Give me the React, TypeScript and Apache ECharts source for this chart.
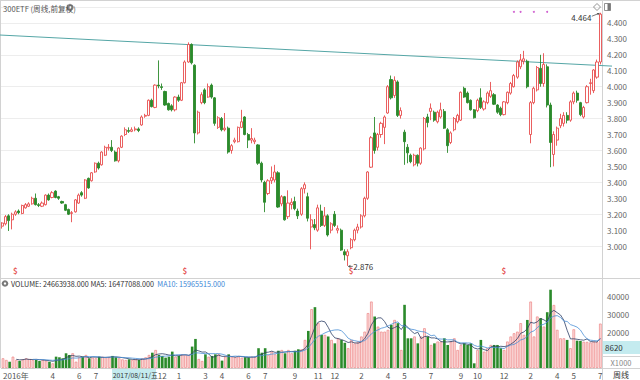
import React, { useEffect, useRef } from 'react';
import * as echarts from 'echarts';

const FONT = '"Noto Sans CJK SC", "Noto Sans", sans-serif';

// ---------- categories (weekly bars, dated by last trading day) ----------
const START_DATE = [2016, 11, 23];
const END_DATE = [2020, 6, 3];
const CLOSED_WEEKS = ['2017-10-06', '2018-10-05', '2019-02-08', '2020-01-31'];
const LAST_DAY_FIX: Record<string, string> = {
  '2019-05-03': '2019-04-30',
  '2019-10-04': '2019-09-30',
  '2020-05-01': '2020-04-30',
};
function buildWeeks(): string[] {
  const out: string[] = [];
  let t = Date.UTC(START_DATE[0], START_DATE[1], START_DATE[2]);
  const end = Date.UTC(END_DATE[0], END_DATE[1], END_DATE[2]);
  while (t <= end) {
    const s = new Date(t).toISOString().slice(0, 10);
    if (!CLOSED_WEEKS.includes(s)) out.push(LAST_DAY_FIX[s] ?? s);
    t += 7 * 86400000;
  }
  return out;
}
const WEEKS = buildWeeks();

// ---------- price data ----------
const OPEN = [
  3.125,3.140,3.190,3.165,3.200,3.220,3.205,3.240,3.250,3.265,
  3.300,3.260,3.250,3.260,3.320,3.305,3.345,3.310,3.280,3.260,
  3.230,3.205,3.215,3.270,3.335,3.300,3.425,3.410,3.465,3.520,
  3.510,3.570,3.615,3.620,3.590,3.535,3.620,3.700,3.725,3.720,
  3.730,3.735,3.760,3.815,3.820,3.915,3.870,4.010,4.000,3.970,
  3.895,3.880,3.855,3.935,3.915,4.025,4.155,4.265,4.135,3.710,
  3.900,3.980,3.935,4.010,3.930,3.745,3.800,3.730,3.740,3.600,
  3.655,3.655,3.745,3.810,3.700,3.665,3.655,3.635,3.520,3.400,
  3.330,3.410,3.415,3.460,3.265,3.310,3.185,3.260,3.280,3.220,
  3.200,3.360,3.310,3.120,3.135,3.100,3.220,3.130,3.190,3.100,
  3.200,3.100,3.100,2.965,2.940,2.990,3.040,3.100,3.120,3.190,
  3.300,3.495,3.710,3.620,3.700,3.745,3.835,4.045,3.945,4.030,
  3.820,3.715,3.620,3.570,3.510,3.570,3.520,3.610,3.810,3.845,
  3.840,3.780,3.810,3.845,3.730,3.650,3.730,3.780,3.790,3.990,
  3.960,3.915,3.855,3.850,3.930,3.860,3.900,3.940,3.950,3.885,
  3.865,3.825,3.900,3.960,4.000,4.060,4.125,4.160,4.160,3.700,
  3.900,3.980,4.115,4.020,4.125,3.885,3.575,3.665,3.755,3.770,
  3.820,3.790,3.905,3.960,3.900,3.810,3.900,4.020,3.975,4.060,
  4.155,
];
const CLOSE = [
  3.145,3.185,3.160,3.200,3.215,3.210,3.255,3.260,3.265,3.300,
  3.260,3.255,3.270,3.320,3.290,3.335,3.305,3.300,3.270,3.225,
  3.200,3.210,3.290,3.320,3.320,3.415,3.365,3.460,3.520,3.490,
  3.590,3.620,3.620,3.600,3.535,3.615,3.690,3.730,3.720,3.730,
  3.735,3.725,3.810,3.820,3.915,3.875,4.010,4.005,3.995,3.885,
  3.855,3.855,3.935,3.915,4.025,4.155,4.265,4.150,3.710,3.840,
  3.950,3.900,4.000,3.935,3.770,3.805,3.730,3.740,3.590,3.630,
  3.665,3.745,3.780,3.700,3.665,3.675,3.665,3.520,3.415,3.275,
  3.410,3.430,3.465,3.245,3.310,3.165,3.270,3.275,3.235,3.190,
  3.360,3.385,3.175,3.165,3.115,3.240,3.130,3.190,3.070,3.140,
  3.130,3.110,2.975,2.945,2.965,3.040,3.100,3.120,3.190,3.300,
  3.465,3.680,3.600,3.700,3.770,3.810,4.000,3.930,4.040,3.820,
  3.850,3.655,3.585,3.530,3.570,3.520,3.615,3.800,3.775,3.865,
  3.790,3.840,3.855,3.740,3.630,3.710,3.800,3.820,3.965,3.935,
  3.900,3.855,3.805,3.915,3.870,3.905,3.960,3.975,3.890,3.840,
  3.825,3.905,3.965,4.020,4.070,4.155,4.168,4.175,4.000,3.900,
  3.990,4.120,4.020,4.140,3.885,3.650,3.700,3.740,3.800,3.820,
  3.790,3.905,3.960,3.915,3.825,3.870,4.000,4.025,4.105,4.155,
  4.455,
];
const LOW = [
  3.110,3.130,3.095,3.105,3.190,3.200,3.200,3.235,3.245,3.260,
  3.255,3.245,3.245,3.255,3.285,3.300,3.300,3.290,3.265,3.220,
  3.195,3.150,3.210,3.265,3.310,3.295,3.360,3.405,3.460,3.480,
  3.505,3.565,3.600,3.590,3.530,3.525,3.615,3.690,3.710,3.715,
  3.720,3.715,3.755,3.805,3.815,3.870,3.865,3.990,3.980,3.880,
  3.850,3.845,3.845,3.905,3.910,4.020,4.150,4.140,3.645,3.700,
  3.890,3.890,3.930,3.925,3.755,3.735,3.720,3.720,3.580,3.580,
  3.645,3.650,3.740,3.695,3.615,3.645,3.640,3.510,3.400,3.213,
  3.320,3.390,3.400,3.240,3.250,3.160,3.170,3.230,3.225,3.170,
  3.190,3.330,3.155,2.980,3.100,3.090,3.120,3.120,3.060,3.080,
  3.120,3.080,2.970,2.910,2.876,2.980,3.030,3.080,3.110,3.180,
  3.290,3.490,3.580,3.600,3.680,3.640,3.830,3.920,3.930,3.810,
  3.800,3.510,3.520,3.520,3.500,3.500,3.510,3.600,3.745,3.790,
  3.780,3.770,3.800,3.735,3.585,3.640,3.720,3.770,3.785,3.930,
  3.895,3.850,3.800,3.840,3.860,3.850,3.890,3.930,3.885,3.830,
  3.815,3.820,3.890,3.950,3.995,4.050,4.110,4.140,3.990,3.645,
  3.890,3.970,4.000,4.000,3.870,3.495,3.500,3.630,3.740,3.750,
  3.770,3.780,3.890,3.900,3.815,3.800,3.895,3.950,3.960,4.050,
  4.140,
];
const HIGH = [
  3.150,3.195,3.200,3.210,3.225,3.230,3.260,3.270,3.275,3.310,
  3.330,3.270,3.280,3.325,3.330,3.345,3.350,3.315,3.285,3.265,
  3.235,3.220,3.295,3.330,3.345,3.420,3.430,3.465,3.525,3.530,
  3.595,3.630,3.640,3.665,3.600,3.620,3.695,3.745,3.745,3.745,
  3.750,3.745,3.820,3.830,3.920,3.925,4.015,4.165,4.020,3.975,
  3.900,3.890,3.940,3.950,4.030,4.165,4.278,4.272,4.140,3.850,
  3.965,3.990,4.020,4.020,3.935,3.815,3.810,3.835,3.750,3.640,
  3.680,3.750,3.855,3.815,3.710,3.740,3.680,3.640,3.530,3.410,
  3.420,3.500,3.510,3.470,3.320,3.315,3.350,3.300,3.310,3.235,
  3.370,3.400,3.335,3.200,3.170,3.260,3.260,3.245,3.200,3.150,
  3.220,3.130,3.110,2.980,2.980,3.050,3.110,3.140,3.200,3.310,
  3.470,3.690,3.810,3.710,3.780,3.820,4.010,4.070,4.065,4.040,
  3.870,3.730,3.640,3.580,3.580,3.575,3.620,3.810,3.830,3.895,
  3.850,3.850,3.900,3.860,3.740,3.720,3.810,3.830,3.970,4.000,
  3.970,3.920,3.860,3.925,3.990,3.915,3.970,4.030,3.960,3.890,
  3.875,3.910,3.970,4.030,4.080,4.165,4.205,4.225,4.170,3.910,
  4.000,4.130,4.200,4.210,4.140,3.900,3.720,3.750,3.830,3.840,
  3.840,3.915,3.970,3.975,3.905,3.880,4.010,4.050,4.110,4.170,
  4.464,
];
// volume, in thousands
const VOLUME = [
  5400,4450,3500,6300,4450,4000,4800,5400,5000,4450,
  4450,3900,4450,4100,3500,2600,6300,5950,5400,8170,
  7240,8170,3500,5950,6300,7240,5400,5750,5400,6300,
  6300,5950,5950,6700,5950,5400,4800,4450,4800,4450,
  4800,4450,5400,5950,7240,8500,10000,7240,6700,5750,
  6300,9100,6300,6700,7600,7240,7240,11900,16150,5000,
  3900,7600,6300,6700,7600,7600,4100,6300,7600,6300,
  5950,6300,5750,5950,5950,6300,6300,11000,8500,11000,
  7240,9100,7600,9600,10000,8170,10000,8170,9600,10400,
  10400,15600,20600,32700,33800,24900,18400,18400,17500,15600,
  13700,16500,15600,14000,11000,15600,13700,14700,17500,20200,
  30500,36900,28600,23000,20200,20200,21200,24000,26700,24900,
  10000,35100,16500,16500,17500,13700,17500,22100,17500,12800,
  13700,14700,14700,16500,12800,14700,16500,10000,12800,13700,
  12800,13700,2600,10000,15600,9100,11000,12800,12800,12800,
  11000,10000,14700,17500,19300,20200,24900,18400,26700,36900,
  17500,28600,27700,23000,31000,43500,35000,21200,16500,16500,
  15600,11000,21500,15200,15000,14569.71,14500,14200,14600,14421.502,
  24663.938,
];

// ---------- ticks / annotations ----------
const MONTH_TICKS = [
  '2017-04','2017-06','2017-07','2017-12','2018-01','2018-03','2018-04','2018-06',
  '2018-07','2018-09','2018-11','2018-12','2019-02','2019-04','2019-05','2019-07',
  '2019-09','2019-10','2019-12','2020-02','2020-04','2020-05','2020-07',
];
const FIRST_LABEL = '2016年';
const HIGHLIGHT_DATE = '2017-08-11';
const WEEKDAY_CN = ['日', '一', '二', '三', '四', '五', '六'];
const PRICE_LABELS_RANGE = [3.0, 4.4];
const VOLUME_LABELS = [20000, 30000, 40000];
const VOLUME_CURSOR_LABEL = '8620';
const DIVIDEND_WEEKS = ['2017-01-20', '2018-01-19', '2019-01-11', '2019-12-06'];
const DIVIDEND_LEVEL = 2.845;
const EVENT_WEEKS = ['2019-12-27', '2020-01-10', '2020-02-14', '2020-03-13'];
const EVENT_LEVEL = 4.47;
const TREND_START = { date: '2016-12-23', price: 4.3235 };
const TREND_END = { date: '2020-07-03', price: 4.133 };
const TITLE = '300ETF (周线,前复权)';
const PERIOD_LABEL = '周线';
const UNIT_LABEL = 'X1000';

const UP = '#e84e4e';
const DOWN = '#2b8a2b';

function movingAvg(n: number) {
  return VOLUME.map((_, i) => {
    if (i < n - 1) return '-';
    let s = 0;
    for (let k = i - n + 1; k <= i; k++) s += VOLUME[k];
    return s / n;
  });
}

export default function App() {
  const ref = useRef<HTMLDivElement>(null);

  useEffect(() => {
    if (!ref.current) return;
    const chart = echarts.init(ref.current, null, { renderer: 'svg' });
    const N = WEEKS.length;
    const ma5 = movingAvg(5);
    const ma10 = movingAvg(10);
    const monthStart = new Set<number>();
    WEEKS.forEach((d, i) => {
      if (i > 0 && d.slice(0, 7) !== WEEKS[i - 1].slice(0, 7) && MONTH_TICKS.includes(d.slice(0, 7))) monthStart.add(i);
    });

    const candleData = WEEKS.map((_, i) => [OPEN[i], CLOSE[i], LOW[i], HIGH[i]]);
    const volData = VOLUME.map((v, i) => ({
      value: v,
      itemStyle: CLOSE[i] >= OPEN[i]
        ? { color: '#fbdede', borderColor: '#ee8585', borderWidth: 0.7 }
        : { color: DOWN, borderWidth: 0 },
    }));

    const option: any = {
      animation: false,
      backgroundColor: '#fff',
      textStyle: { fontFamily: FONT },
      grid: [
        { left: 0.5, right: 38, top: 7, height: 271 },
        { left: 0.5, right: 38, top: 278, height: 90 },
      ],
      xAxis: [
        {
          type: 'category', gridIndex: 0, data: WEEKS, boundaryGap: true,
          axisLine: { show: false }, axisTick: { show: false }, axisLabel: { show: false }, splitLine: { show: false },
        },
        {
          type: 'category', gridIndex: 1, data: WEEKS, boundaryGap: true,
          axisLine: { show: true, lineStyle: { color: '#cfcfcf' } },
          axisTick: { show: false },
          splitLine: { show: false },
          axisLabel: {
            show: true,
            fontSize: 8,
            color: '#555',
            margin: 3,
            hideOverlap: false,
            alignMinLabel: 'left',
            interval: (idx: number) => idx === 0 || monthStart.has(idx),
            formatter: (val: string, idx: number) => (idx === 0 ? FIRST_LABEL : String(parseInt(val.slice(5, 7), 10))),
          },
        },
      ],
      yAxis: [
        {
          type: 'value', gridIndex: 0, position: 'right', min: 2.8, max: 4.5, interval: 0.1,
          axisLine: { show: false }, axisTick: { show: false }, splitLine: { show: false },
          axisLabel: {
            fontSize: 8, color: '#666', margin: 5,
            formatter: (v: number) => (v < PRICE_LABELS_RANGE[0] - 0.01 || v > PRICE_LABELS_RANGE[1] + 0.01 ? '' : v.toFixed(3)),
          },
        },
        {
          type: 'value', gridIndex: 0, position: 'left', min: 2.8, max: 4.5, interval: 0.2,
          axisLine: { show: false }, axisTick: { show: false }, axisLabel: { show: false },
          splitLine: { show: true, lineStyle: { color: '#ededed', width: 1 } },
        },
        {
          type: 'value', gridIndex: 1, position: 'right', min: 0, max: 50000, interval: 10000,
          axisLine: { show: false }, axisTick: { show: false }, splitLine: { show: false },
          axisLabel: {
            fontSize: 8, color: '#666', margin: 5,
            formatter: (v: number) => (VOLUME_LABELS.includes(Math.round(v)) ? String(Math.round(v)) : ''),
          },
        },
      ],
      series: [
        {
          type: 'candlestick', xAxisIndex: 0, yAxisIndex: 0, data: candleData, barWidth: 2.6,
          itemStyle: { color: '#ffffff', color0: DOWN, borderColor: UP, borderColor0: DOWN, borderWidth: 0.9 },
        },
        {
          type: 'scatter', xAxisIndex: 0, yAxisIndex: 0, silent: true,
          data: DIVIDEND_WEEKS.map((d) => [d, DIVIDEND_LEVEL]),
          symbolSize: 1, itemStyle: { color: 'rgba(0,0,0,0)' },
          label: { show: true, position: 'inside', formatter: '$', color: '#e02c2c', fontSize: 8, fontWeight: 'bold' },
        },
        {
          type: 'scatter', xAxisIndex: 0, yAxisIndex: 0, silent: true,
          data: EVENT_WEEKS.map((d) => [d, EVENT_LEVEL]),
          symbolSize: 2, itemStyle: { color: '#c53cc5' },
        },
        {
          type: 'bar', xAxisIndex: 1, yAxisIndex: 2, data: volData, barWidth: 2.6,
        },
        {
          type: 'line', xAxisIndex: 1, yAxisIndex: 2, data: ma5, symbol: 'none', smooth: false,
          lineStyle: { color: '#2d3f66', width: 0.8 },
        },
        {
          type: 'line', xAxisIndex: 1, yAxisIndex: 2, data: ma10, symbol: 'none', smooth: false,
          lineStyle: { color: '#4a8fd6', width: 0.8 },
        },
      ],
    };
    chart.setOption(option);

    // ----- overlays that use the chart's own scales -----
    const px = (date: string, price: number) =>
      chart.convertToPixel({ xAxisIndex: 0, yAxisIndex: 0 }, [WEEKS.indexOf(date), price]) as number[];
    const a = px(TREND_START.date, TREND_START.price);
    const b = px(TREND_END.date, TREND_END.price);
    const slope = (b[1] - a[1]) / (b[0] - a[0]);
    const yAt = (x: number) => a[1] + slope * (x - a[0]);

    let hiIdx = 0; let loIdx = 0;
    HIGH.forEach((h, i) => { if (h > HIGH[hiIdx]) hiIdx = i; });
    LOW.forEach((l, i) => { if (l < LOW[loIdx]) loIdx = i; });
    const hp = px(WEEKS[hiIdx], HIGH[hiIdx]);
    const lp = px(WEEKS[loIdx], LOW[loIdx]);

    const hd = WEEKS.indexOf(HIGHLIGHT_DATE);
    const hx = chart.convertToPixel({ xAxisIndex: 1 }, hd) as number;
    const hdDate = new Date(HIGHLIGHT_DATE + 'T00:00:00Z');
    const hdText = HIGHLIGHT_DATE.replace(/-/g, '/') + '/' + WEEKDAY_CN[hdDate.getUTCDay()];

    const lastVol = VOLUME[N - 1];
    const lastMa5 = ma5[N - 1] as number;
    const lastMa10 = ma10[N - 1] as number;
    const fmt = (v: number) => (v * 1000).toFixed(3);

    const frame = '#d2d2d2';
    const ln = (x1: number, y1: number, x2: number, y2: number, color = frame, w = 1) => ({
      type: 'line', silent: true, shape: { x1, y1, x2, y2 }, style: { stroke: color, lineWidth: w },
    });
    const txt = (x: number, y: number, text: string, extra: any = {}, z = 10) => ({
      type: 'text', silent: true, x, y, z,
      style: { text, fontFamily: FONT, fontSize: 8, fill: '#333', align: 'left', verticalAlign: 'middle', ...extra },
    });

    const headerFont = { fontFamily: FONT, fontSize: 7.2 };
    const graphic: any[] = [
      ln(0, 0.5, 640, 0.5),
      ln(0.5, 0, 0.5, 368),
      ln(602.5, 0, 602.5, 380),
      ln(0, 278.5, 640, 278.5),
      ln(602, 356.5, 640, 356.5),
      ln(602, 368.5, 640, 368.5),
      // trend line
      ln(0, yAt(0), 612, yAt(612), '#55a6a6', 1),
      // title
      txt(3, 8, TITLE, { fill: '#555', fontSize: 7.6 }),
      { type: 'circle', silent: true, shape: { cx: 70, cy: 7.5, r: 3.6 }, style: { fill: '#8a8a8a' } },
      { type: 'circle', silent: true, shape: { cx: 70, cy: 7.5, r: 1.3 }, style: { fill: '#fff' } },
      // top-right icons
      { type: 'polygon', silent: true, shape: { points: [[597, 3.5], [600.5, 7], [597, 10.5], [593.5, 7]] }, style: { fill: 'none', stroke: '#777', lineWidth: 0.8 } },
      { type: 'rect', silent: true, shape: { x: 604.5, y: 3.5, width: 6, height: 7 }, style: { fill: 'none', stroke: '#777', lineWidth: 0.8 } },
      { type: 'rect', silent: true, shape: { x: 607.5, y: 3.5, width: 3, height: 7 }, style: { fill: '#777' } },
      // high annotation
      txt(hp[0] - 9, hp[1] + 4.5, HIGH[hiIdx].toFixed(3), { align: 'right' }),
      ln(hp[0] - 8.5, hp[1] + 3.5, hp[0] - 1, hp[1] + 0.5, '#555', 0.8),
      { type: 'polygon', silent: true, shape: { points: [[hp[0] - 0.5, hp[1] + 0.3], [hp[0] - 3.5, hp[1] + 0.2], [hp[0] - 2.3, hp[1] + 2.6]] }, style: { fill: '#555' } },
      // low annotation
      ln(lp[0] + 0.5, lp[1] + 0.5, lp[0] + 5, lp[1] + 0.5, '#555', 0.8),
      { type: 'polygon', silent: true, shape: { points: [[lp[0] + 0.3, lp[1] + 0.5], [lp[0] + 2.6, lp[1] - 1.2], [lp[0] + 2.6, lp[1] + 2.2]] }, style: { fill: '#555' } },
      txt(lp[0] + 5.5, lp[1] + 0.8, LOW[loIdx].toFixed(3)),
      // volume header
      { type: 'circle', silent: true, shape: { cx: 5, cy: 283.5, r: 3.3 }, style: { fill: '#7a7a7a' } },
      { type: 'circle', silent: true, shape: { cx: 5, cy: 283.5, r: 1.2 }, style: { fill: '#fff' } },
      {
        type: 'text', silent: true, x: 11, y: 283.5, z: 10,
        style: {
          text: '{a|VOLUME: ' + fmt(lastVol) + '} {a|MA5: ' + fmt(lastMa5) + '}  {c|MA10: ' + fmt(lastMa10) + '}',
          verticalAlign: 'middle', align: 'left', ...headerFont, fill: '#333',
          rich: {
            a: { ...headerFont, fill: '#333', color: '#333' },
            c: { ...headerFont, fill: '#3b86d6', color: '#3b86d6' },
          },
        },
      },
      // highlighted date
      { type: 'rect', silent: true, z: 50, shape: { x: hx - 0.5, y: 369, width: 44, height: 11 }, style: { fill: '#c4ebef' } },
      txt(hx + 0.3, 374.5, hdText, { fill: '#333', fontSize: 6.8 }, 60),
      // volume cursor value, units, period
      { type: 'rect', silent: true, z: 50, shape: { x: 603, y: 341, width: 37, height: 13 }, style: { fill: '#c4ebef' } },
      txt(605, 347.5, VOLUME_CURSOR_LABEL, { fill: '#333' }, 60),
      txt(621, 362.5, UNIT_LABEL, { align: 'center', fill: '#888', fontSize: 7.5 }, 60),
      txt(621, 374.5, PERIOD_LABEL, { align: 'center', fill: '#333' }, 60),
    ];
    chart.setOption({ graphic });

    return () => chart.dispose();
  }, []);

  return (
    <div
      ref={ref}
      style={{ position: 'fixed', left: 0, top: 0, width: 640, height: 380, background: '#fff' }}
    />
  );
}
